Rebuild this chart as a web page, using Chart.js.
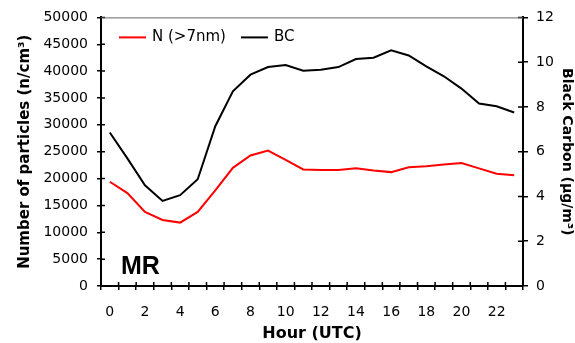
<!DOCTYPE html>
<html lang="en">
<head>
    <meta charset="UTF-8">
    <title>MR - N and BC</title>
    <script src="https://cdn.jsdelivr.net/npm/chart.js"></script>
    <style>
        body { margin: 0; background: #fff; }
    </style>
</head>
<body>
    <canvas id="lineChart" width="575" height="343"></canvas>

    <script>
        const hours = ['0', '1', '2', '3', '4', '5', '6', '7', '8', '9', '10', '11',
                       '12', '13', '14', '15', '16', '17', '18', '19', '20', '21', '22', '23'];
        const nParticles = [19400, 17300, 13800, 12300, 11800, 13800, 17800, 22000, 24300, 25200, 23500, 21700,
                            21600, 21600, 21900, 21500, 21200, 22100, 22300, 22600, 22900, 21900, 20900, 20600];
        const blackCarbon = [6.86, 5.70, 4.50, 3.80, 4.06, 4.77, 7.14, 8.70, 9.44, 9.78, 9.87, 9.62,
                             9.66, 9.78, 10.14, 10.20, 10.53, 10.30, 9.81, 9.37, 8.82, 8.15, 8.03, 7.75];
        const siteLabel = 'MR';

        const font = 'DejaVu Sans';

        // tick marks crossing into the plot, top frame line, legend inside plot, site label
        const extras = {
            id: 'extras',
            afterDraw(chart) {
                const ctx = chart.ctx;
                const a = chart.chartArea;
                const x = chart.scales.x, y = chart.scales.y, y1 = chart.scales.y1;
                ctx.save();
                ctx.strokeStyle = '#000';
                ctx.lineWidth = 1.5;
                ctx.beginPath();
                y.ticks.forEach(t => {
                    const p = y.getPixelForValue(t.value);
                    ctx.moveTo(a.left, p); ctx.lineTo(a.left + 4, p);
                });
                y1.ticks.forEach(t => {
                    const p = y1.getPixelForValue(t.value);
                    ctx.moveTo(a.right, p); ctx.lineTo(a.right - 5, p);
                });
                const half = (x.getPixelForValue(1) - x.getPixelForValue(0)) / 2;
                for (let i = 0; i <= hours.length; i++) {
                    const p = x.getPixelForValue(i) - half;
                    ctx.moveTo(p, a.bottom); ctx.lineTo(p, a.bottom - 4);
                }
                ctx.stroke();

                ctx.strokeStyle = '#666';
                ctx.lineWidth = 1;
                ctx.beginPath();
                ctx.moveTo(a.left, a.top + 0.5);
                ctx.lineTo(a.right, a.top + 0.5);
                ctx.stroke();

                // legend
                ctx.font = '15px "' + font + '"';
                ctx.textBaseline = 'middle';
                let lx = a.left + 18;
                const ly = a.top + 20;
                chart.data.datasets.forEach(ds => {
                    ctx.strokeStyle = ds.borderColor;
                    ctx.lineWidth = 2;
                    ctx.beginPath();
                    ctx.moveTo(lx, ly); ctx.lineTo(lx + 27, ly);
                    ctx.stroke();
                    ctx.fillStyle = '#000';
                    ctx.fillText(ds.label, lx + 33, ly);
                    lx += 33 + ctx.measureText(ds.label).width + 15;
                });

                ctx.fillStyle = '#000';
                ctx.font = 'bold 25px "Liberation Sans", Arial';
                ctx.textBaseline = 'alphabetic';
                ctx.fillText(siteLabel, a.left + 20, 274);
                ctx.restore();
            }
        };

        const ctx = document.getElementById('lineChart').getContext('2d');
        const lineChart = new Chart(ctx, {
            type: 'line',
            data: {
                labels: hours,
                datasets: [{
                    label: 'N (>7nm)',
                    data: nParticles,
                    borderColor: '#ff0000',
                    backgroundColor: '#ff0000',
                    borderWidth: 2,
                    pointRadius: 0,
                    tension: 0,
                    yAxisID: 'y'
                }, {
                    label: 'BC',
                    data: blackCarbon,
                    borderColor: '#000000',
                    backgroundColor: '#000000',
                    borderWidth: 2,
                    pointRadius: 0,
                    tension: 0,
                    yAxisID: 'y1'
                }]
            },
            options: {
                responsive: false,
                animation: false,
                layout: { padding: { top: 17, left: 0, right: 0, bottom: 0 } },
                plugins: {
                    legend: { display: false },
                    tooltip: { enabled: false }
                },
                scales: {
                    x: {
                        offset: true,
                        afterFit: s => { s.height = 57; },
                        grid: { offset: true, drawOnChartArea: false, tickLength: 4, color: '#000', lineWidth: 1.5 },
                        border: { color: '#000', width: 2 },
                        ticks: {
                            autoSkip: false,
                            maxRotation: 0,
                            padding: 14,
                            color: '#000',
                            font: { family: font, size: 14 },
                            callback: (v, i) => i % 2 === 0 ? hours[i] : ''
                        },
                        title: {
                            display: true,
                            text: 'Hour (UTC)',
                            color: '#000',
                            padding: { top: 0, bottom: 0 },
                            font: { family: font, size: 16, weight: 'bold' }
                        }
                    },
                    y: {
                        position: 'left',
                        min: 0,
                        max: 50000,
                        afterFit: s => { s.width = 101; },
                        grid: { drawOnChartArea: false, tickLength: 4, color: '#000', lineWidth: 1.5 },
                        border: { color: '#000', width: 2 },
                        ticks: {
                            stepSize: 5000,
                            padding: 9,
                            color: '#000',
                            font: { family: font, size: 14 },
                            callback: v => String(v)
                        },
                        title: {
                            display: true,
                            text: 'Number of particles (n/cm³)',
                            color: '#000',
                            padding: { top: 16, bottom: 0 },
                            font: { family: font, size: 15, weight: 'bold' }
                        }
                    },
                    y1: {
                        position: 'right',
                        min: 0,
                        max: 12,
                        afterFit: s => { s.width = 52; },
                        grid: { drawOnChartArea: false, tickLength: 5, color: '#000', lineWidth: 1.5 },
                        border: { color: '#000', width: 2 },
                        ticks: {
                            stepSize: 2,
                            padding: 8,
                            color: '#000',
                            font: { family: font, size: 14 }
                        },
                        title: {
                            display: true,
                            text: 'Black Carbon (µg/m³)',
                            color: '#000',
                            padding: { top: 0, bottom: 0 },
                            font: { family: font, size: 14, weight: 'bold' }
                        }
                    }
                }
            },
            plugins: [extras]
        });
    </script>
</body>
</html>
